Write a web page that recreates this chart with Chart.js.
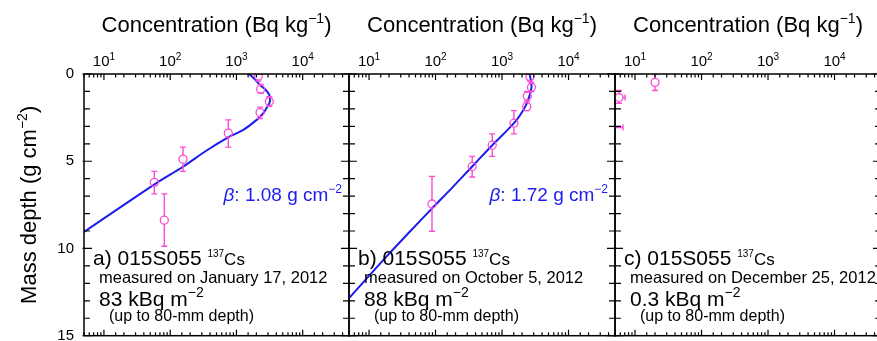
<!DOCTYPE html>
<html lang="en">
<head>
    <meta charset="UTF-8">
    <title>015S055 137Cs depth profiles</title>
    <script src="https://cdn.jsdelivr.net/npm/chart.js"></script>
    <style>
        body { margin: 0; background: #fff; }
        #wrap { position: relative; width: 877px; height: 341px; overflow: hidden; }
        #wrap canvas { position: absolute; top: 0; }
    </style>
</head>
<body>
<div id="wrap">
    <canvas id="chartA" width="360" height="341" style="left:0px"></canvas>
    <canvas id="chartB" width="360" height="341" style="left:300px"></canvas>
    <canvas id="chartC" width="330" height="341" style="left:560px"></canvas>
</div>

<script>
    // 座標範圍
    const concMin = 5;
    const concMax = 50000;
    const depthMin = 0;
    const depthMax = 15;
    const depthTickLabels = [0, 5, 10, 15];

    // 第一張圖 (a) 測量點: 濃度, 深度, 層上緣, 層下緣
    const concA = [2140, 2320, 3130, 2270, 754, 156, 57.6, 81.5];
    const depthA = [0.11, 0.87, 1.58, 2.21, 3.39, 4.88, 6.21, 8.38];
    const layerTopA = [0, 0.6, 1.3, 1.9, 2.63, 4.19, 5.58, 6.87];
    const layerBottomA = [0.4, 1.1, 1.85, 2.55, 4.19, 5.58, 6.87, 9.87];
    // 第一張圖擬合曲線
    const fitDepthA = [0, 0.3, 0.63, 0.9, 1.2, 1.58, 1.9, 2.25, 2.63, 3.2, 3.62, 4.4, 5.3, 6.25, 7.5, 9.05];
    const fitConcA = [1550, 1900, 2270, 2750, 3130, 3200, 2900, 2540, 2020, 1270, 760, 350, 158, 62, 20, 5];

    // 第二張圖 (b)
    const concB = [2630, 2770, 2400, 2350, 1510, 713, 356, 88.5];
    const depthB = [0.15, 0.76, 1.26, 1.87, 2.82, 4.08, 5.3, 7.45];
    const layerTopB = [0, 0.5, 1.0, 1.6, 2.1, 3.43, 4.72, 5.87];
    const layerBottomB = [0.4, 1.0, 1.5, 2.1, 3.43, 4.72, 5.9, 9.01];
    const fitDepthB = [0, 0.4, 0.8, 1.3, 1.7, 2.06, 2.5, 2.82, 3.4, 4.08, 5.3, 6.5, 7.58, 9, 10.5, 12.85];
    const fitConcB = [2600, 2720, 2770, 2560, 2350, 2090, 1760, 1510, 1080, 713, 356, 180, 95, 42, 18, 5];

    // 第三張圖 (c), 含水平誤差
    const concC = [20, 5.75, 3.5];
    const depthC = [0.48, 1.35, 3.07];
    const layerTopC = [0, 0.95, 3.07];
    const layerBottomC = [0.95, 1.68, 3.07];
    const concLowC = [null, 4.6, 1.5];
    const concHighC = [null, 7.1, 6.6];

    // 文字
    const panelTags = ['a)', 'b)', 'c)'];
    const siteName = '015S055';
    const measuredDates = ['January 17, 2012', 'October 5, 2012', 'December 25, 2012'];
    const inventories = ['83', '88', '0.3'];
    const betaValues = ['1.08', '1.72', null];

    const FONT = '"Liberation Sans", Arial, Helvetica, sans-serif';
    const PINK = 'rgb(250, 75, 212)';
    const BLUE = 'rgb(28, 28, 238)';

    function toPoints(xs, ys) {
        return xs.map((x, i) => ({ x: x, y: ys[i] }));
    }

    function isDecade(v) {
        const l = Math.log10(v);
        return Math.abs(l - Math.round(l)) < 1e-6;
    }

    // 畫含上標的文字: parts = [文字, 字級, 上移, 斜體]
    function drawParts(ctx, parts, x, y, align) {
        let total = 0;
        parts.forEach(p => {
            ctx.font = (p[3] ? 'italic ' : '') + p[1] + 'px ' + FONT;
            total += ctx.measureText(p[0]).width;
        });
        let cx = align === 'center' ? x - total / 2 : (align === 'right' ? x - total : x);
        ctx.textAlign = 'left';
        ctx.textBaseline = 'alphabetic';
        parts.forEach(p => {
            ctx.font = (p[3] ? 'italic ' : '') + p[1] + 'px ' + FONT;
            ctx.fillText(p[0], cx, y - p[2]);
            cx += ctx.measureText(p[0]).width;
        });
    }

    function makePanel(canvasId, idx, pad, showY, pts, layerTop, layerBottom, xLow, xHigh, fitPts) {
        const datasets = [
            {
                label: 'measured',
                data: pts,
                pointStyle: 'circle',
                pointRadius: 4,
                pointBorderWidth: 1.3,
                pointBorderColor: PINK,
                pointBackgroundColor: 'rgba(0,0,0,0)',
                showLine: false,
                clip: 0
            }
        ];
        if (fitPts) {
            datasets.push({
                label: 'fit',
                data: fitPts,
                showLine: true,
                borderColor: BLUE,
                borderWidth: 2,
                pointRadius: 0,
                tension: 0.35,
                clip: 0
            });
        }

        // 框線、刻度、文字
        const decorPlugin = {
            id: 'decor' + idx,
            afterDatasetsDraw(chart) {
                const ctx = chart.ctx, a = chart.chartArea;
                const xs = chart.scales.x, ys = chart.scales.y;
                ctx.save();
                ctx.beginPath();
                ctx.rect(a.left, a.top, a.right - a.left, a.bottom - a.top);
                ctx.clip();
                ctx.strokeStyle = PINK;
                ctx.lineWidth = 1.4;
                ctx.beginPath();
                pts.forEach((p, i) => {
                    const px = xs.getPixelForValue(p.x);
                    const py = ys.getPixelForValue(p.y);
                    const t = ys.getPixelForValue(layerTop[i]);
                    const b = ys.getPixelForValue(layerBottom[i]);
                    if (b - t > 0.5) {
                        if (py - 4 > t) { ctx.moveTo(px, t); ctx.lineTo(px, py - 4); }
                        if (py + 4 < b) { ctx.moveTo(px, py + 4); ctx.lineTo(px, b); }
                        ctx.moveTo(px - 3, t); ctx.lineTo(px + 3, t);
                        ctx.moveTo(px - 3, b); ctx.lineTo(px + 3, b);
                    }
                    if (xLow && xLow[i] != null) {
                        const l = xs.getPixelForValue(xLow[i]);
                        const r = xs.getPixelForValue(xHigh[i]);
                        ctx.moveTo(l, py); ctx.lineTo(Math.max(l, px - 4), py);
                        ctx.moveTo(Math.max(px + 4, l), py); ctx.lineTo(r, py);
                        ctx.moveTo(l, py - 3); ctx.lineTo(l, py + 3);
                        ctx.moveTo(r, py - 3); ctx.lineTo(r, py + 3);
                    }
                });
                ctx.stroke();
                ctx.restore();
            },
            afterDraw(chart) {
                const ctx = chart.ctx, a = chart.chartArea;
                const xs = chart.scales.x, ys = chart.scales.y;
                ctx.save();
                ctx.strokeStyle = '#000';
                ctx.lineWidth = 1.5;
                ctx.strokeRect(a.left, a.top, a.right - a.left, a.bottom - a.top);

                ctx.lineWidth = 1.2;
                ctx.beginPath();
                xs.ticks.forEach(t => {
                    const px = xs.getPixelForValue(t.value);
                    const len = isDecade(t.value) ? 6 : 3.5;
                    ctx.moveTo(px, a.top); ctx.lineTo(px, a.top + len);
                    ctx.moveTo(px, a.bottom); ctx.lineTo(px, a.bottom - len);
                });
                ys.ticks.forEach(t => {
                    const py = ys.getPixelForValue(t.value);
                    const major = t.value % 5 === 0;
                    const len = major ? 8 : 6;
                    const out = major ? 1.5 : 0;
                    ctx.moveTo(a.left - out, py); ctx.lineTo(a.left + len, py);
                    ctx.moveTo(a.right + out, py); ctx.lineTo(a.right - len, py);
                });
                ctx.stroke();

                ctx.fillStyle = '#000';
                // 上方刻度標籤 10^n
                xs.ticks.forEach(t => {
                    if (!isDecade(t.value)) return;
                    const px = xs.getPixelForValue(t.value);
                    drawParts(ctx, [['10', 15, 0], [String(Math.round(Math.log10(t.value))), 10, 6]], px, 66, 'center');
                });
                // 標題
                drawParts(ctx, [['Concentration (Bq kg', 22, 0], ['\u22121', 14, 9], [')', 22, 0]],
                    (a.left + a.right) / 2, 32, 'center');

                // Y 軸標題
                if (showY) {
                    ctx.save();
                    ctx.translate(36, (a.top + a.bottom) / 2);
                    ctx.rotate(-Math.PI / 2);
                    drawParts(ctx, [['Mass depth (g cm', 22, 0], ['\u22122', 14, 9], [')', 22, 0]], 0, 0, 'center');
                    ctx.restore();
                }

                // 說明文字
                const x0 = a.left;
                drawParts(ctx, [[panelTags[idx] + ' ' + siteName + ' ', 21, 0], ['137', 10, 8], ['Cs', 17, 0]], x0 + 9, 265, 'left');
                drawParts(ctx, [['measured on ' + measuredDates[idx], 16.5, 0]], x0 + 15, 283, 'left');
                drawParts(ctx, [[inventories[idx] + ' kBq m', 21, 0], ['\u22122', 14, 9]], x0 + 15, 306, 'left');
                drawParts(ctx, [['(up to 80-mm depth)', 16, 0]], x0 + 25, 321, 'left');

                if (betaValues[idx]) {
                    ctx.fillStyle = BLUE;
                    drawParts(ctx, [['\u03b2', 19, 0, true], [': ' + betaValues[idx] + ' g cm', 19, 0], ['\u22122', 12, 8]],
                        a.right - 7, 201, 'right');
                }
                ctx.restore();
            }
        };

        const yAxis = {
            type: 'linear',
            reverse: true,
            min: depthMin,
            max: depthMax,
            display: showY,
            grid: { display: false, drawTicks: false },
            border: { display: false },
            ticks: {
                stepSize: 1,
                autoSkip: false,
                padding: 10,
                color: '#000',
                font: { family: FONT, size: 15 },
                callback: v => depthTickLabels.includes(v) ? String(v) : ''
            }
        };
        // 只有第一張圖顯示 Y 軸, 固定寬度讓框線對齊
        if (showY) {
            yAxis.afterFit = axis => {
                axis.width = 84;
                axis.paddingTop = 0;
                axis.paddingBottom = 0;
            };
        }

        const ctx = document.getElementById(canvasId).getContext('2d');
        return new Chart(ctx, {
            type: 'scatter',
            data: { datasets: datasets },
            options: {
                responsive: false,
                animation: false,
                layout: { padding: pad },
                plugins: {
                    legend: { display: false },
                    tooltip: { enabled: false }
                },
                scales: {
                    x: {
                        type: 'logarithmic',
                        position: 'top',
                        min: concMin,
                        max: concMax,
                        display: false,
                        ticks: { autoSkip: false }
                    },
                    y: yAxis
                }
            },
            plugins: [decorPlugin]
        });
    }

    makePanel('chartA', 0, { top: 74, bottom: 4, left: 0, right: 11 }, true,
        toPoints(concA, depthA), layerTopA, layerBottomA, null, null, toPoints(fitConcA, fitDepthA));
    makePanel('chartB', 1, { top: 74, bottom: 4, left: 49, right: 45 }, false,
        toPoints(concB, depthB), layerTopB, layerBottomB, null, null, toPoints(fitConcB, fitDepthB));
    makePanel('chartC', 2, { top: 74, bottom: 4, left: 55, right: 9 }, false,
        toPoints(concC, depthC), layerTopC, layerBottomC, concLowC, concHighC, null);
</script>
</body>
</html>
